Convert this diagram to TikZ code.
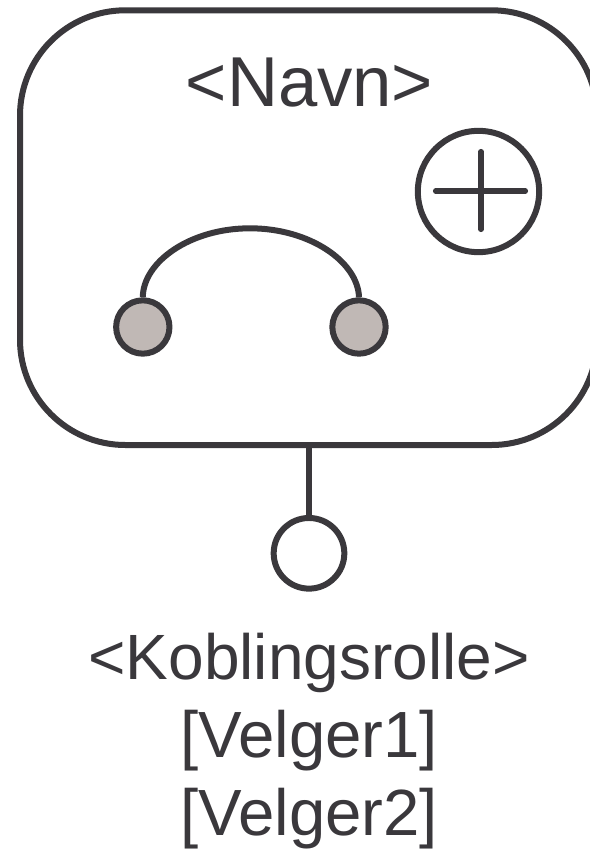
\documentclass[tikz,border=0pt]{standalone}
\usepackage{fontspec}
\setmainfont{Liberation Sans}
\definecolor{ink}{HTML}{3A383C}
\definecolor{dotfill}{HTML}{C0B8B5}
\tikzset{
  px/.style={x=0.75pt,y=-0.75pt},
  ln/.style={draw=ink,line width=4.5pt},
  lbl/.style={text=ink,inner sep=0pt,anchor=base},
  dot/.style={circle,ln,fill=dotfill,minimum size=40pt,inner sep=0pt},
  ring/.style={circle,ln,fill=white,inner sep=0pt}
}
\begin{document}
\begin{tikzpicture}[px]
\useasboundingbox (0,0) rectangle (589,849);
\draw[ln,rounded corners=79pt] (20,10.3) rectangle (597,445);
\node[lbl,font=\fontsize{53}{60}\selectfont] (name) at (309.5,107) {<Navn>};
\node[ring,minimum size=91pt] (plus) at (478.5,191.5) {};
\coordinate (pl) at (435.5,191); \coordinate (pr) at (525.5,191);
\coordinate (pt) at (481,151.5); \coordinate (pb) at (481,229.5);
\draw[ln,line width=3.8pt,line cap=round] (pl) -- (pr);
\draw[ln,line width=3.8pt,line cap=round] (pt) -- (pb);
\node[dot] (d1) at (142.8,327) {};
\node[dot] (d2) at (359,327) {};
\draw[ln] (d1.north) .. controls (143,262) and (190,228.3) .. (250,228.3) .. controls (310,228.3) and (358,262) .. (d2.north);
\coordinate (top) at (309,445);
\node[ring,minimum size=53pt] (socket) at (309,553.3) {};
\draw[ln] (top) -- (socket.north);
\node[lbl,font=\fontsize{48}{60}\selectfont] (role) at (309,679) {<Koblingsrolle>};
\node[lbl,font=\fontsize{49}{60}\selectfont] (sel1) at (309,757) {[Velger1]};
\node[lbl,font=\fontsize{49}{60}\selectfont] (sel2) at (309,835) {[Velger2]};
\end{tikzpicture}
\end{document}
